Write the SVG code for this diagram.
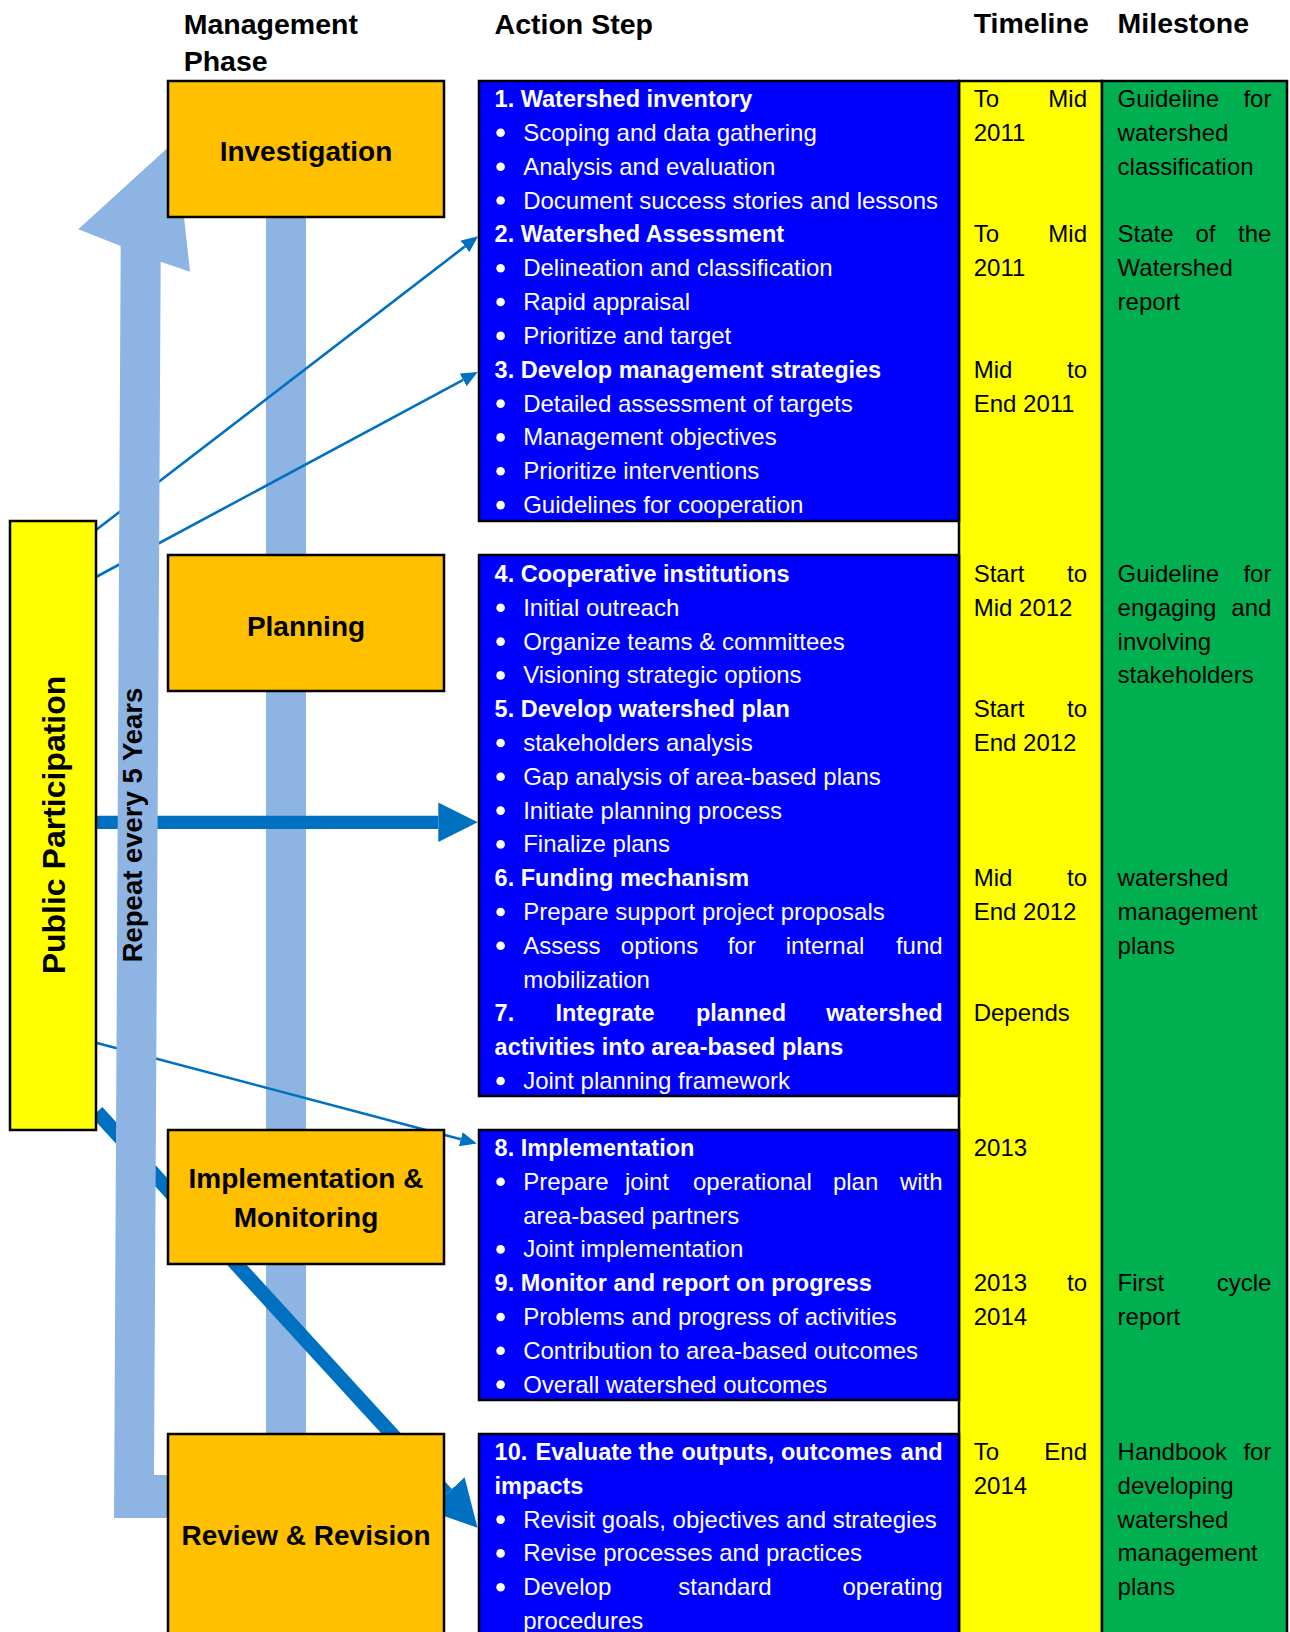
<svg xmlns="http://www.w3.org/2000/svg" width="1290" height="1632" viewBox="0 0 1290 1632">
  <defs>
    <style>
      .f { font-family: "Liberation Sans", Arial, sans-serif; }
      .hdr { font-family: "Liberation Sans", Arial, sans-serif; font-size: 28.5px; font-weight: bold; fill: #000; }
      .phase { font-family: "Liberation Sans", Arial, sans-serif; font-size: 28px; font-weight: bold; fill: #000; text-anchor: middle; }
      .w { font-family: "Liberation Sans", Arial, sans-serif; font-size: 24px; fill: #fff; }
      .wb { font-family: "Liberation Sans", Arial, sans-serif; font-size: 23.5px; font-weight: bold; fill: #fff; }
      .k { font-family: "Liberation Sans", Arial, sans-serif; font-size: 24px; fill: #000; }
      .box { stroke: #000; stroke-width: 2.5; }
      .orange { fill: #FFC000; }
      .blue { fill: #0000FF; }
      .thin { stroke: #0070C0; stroke-width: 2.6; fill: none; }
      .bar { fill: #8EB4E3; }
    </style>
    <marker id="headThin" markerUnits="userSpaceOnUse" markerWidth="17" markerHeight="15" refX="0" refY="7.2" orient="auto">
      <path d="M0,0 L16.5,7.2 L0,14.4 z" fill="#0070C0"/>
    </marker>
    <marker id="headWide" markerUnits="userSpaceOnUse" markerWidth="40" markerHeight="40" refX="0" refY="19.8" orient="auto">
      <path d="M0,0 L39.4,19.8 L0,39.6 z" fill="#0070C0"/>
    </marker>
    <marker id="headDiag" markerUnits="userSpaceOnUse" markerWidth="47" markerHeight="50" refX="0" refY="24.5" orient="auto">
      <path d="M0,0 L46,24.5 L0,49 z" fill="#0070C0"/>
    </marker>
  </defs>

  <rect width="1290" height="1632" fill="#fff"/>

  <!-- column headers -->
  <g id="headers">
    <text class="hdr" x="183.7" y="34">Management</text>
    <text class="hdr" x="183.7" y="71.4">Phase</text>
    <text class="hdr" x="494.6" y="34">Action Step</text>
    <text class="hdr" x="973.7" y="33">Timeline</text>
    <text class="hdr" x="1117.6" y="33">Milestone</text>
  </g>

  <!-- vertical band linking the phases -->
  <rect id="phase-band" class="bar" x="266" y="217" width="40" height="1217"/>

  <!-- connectors from public participation to the action steps -->
  <g id="connectors">
    <line class="thin" x1="96" y1="530" x2="465" y2="246.4" marker-end="url(#headThin)"/>
    <line class="thin" x1="96" y1="577" x2="463.2" y2="379.9" marker-end="url(#headThin)"/>
    <line class="thin" x1="96" y1="1042.7" x2="460.8" y2="1139.2" marker-end="url(#headThin)"/>
    <line x1="96" y1="822.3" x2="438.3" y2="822.3" stroke="#0070C0" stroke-width="13.3" marker-end="url(#headWide)"/>
    <line x1="97" y1="1112" x2="446.5" y2="1493.9" stroke="#0070C0" stroke-width="14.5" marker-end="url(#headDiag)"/>
  </g>

  <!-- repeat cycle arrow -->
  <g id="repeat-arrow">
    <polygon class="bar" points="175.7,140.6 190,271.7 160.7,261.7 154,1475 185,1475 185,1518 114,1518 120.7,246 78.3,229.3"/>
    <text class="f" transform="translate(141.5,825) rotate(-90)" text-anchor="middle" font-size="27.5" font-weight="bold" fill="#000">Repeat every 5 Years</text>
  </g>

  <!-- public participation -->
  <g id="public-participation">
    <rect class="box" x="10" y="521" width="86" height="609" fill="#FFFF00"/>
    <text class="f" transform="translate(64.5,825) rotate(-90)" text-anchor="middle" font-size="32" font-weight="bold" fill="#000">Public Participation</text>
  </g>

  <!-- management phases -->
  <g id="phase-investigation">
    <rect class="box orange" x="168" y="81" width="276" height="136"/>
    <text class="phase" x="306" y="160.5">Investigation</text>
  </g>
  <g id="phase-planning">
    <rect class="box orange" x="168" y="555" width="276" height="136"/>
    <text class="phase" x="306" y="636">Planning</text>
  </g>
  <g id="phase-implementation">
    <rect class="box orange" x="168" y="1130" width="276" height="134"/>
    <text class="phase" x="306" y="1188">Implementation &amp;</text>
    <text class="phase" x="306" y="1227">Monitoring</text>
  </g>
  <g id="phase-review">
    <rect class="box orange" x="168" y="1434" width="276" height="210"/>
    <text class="phase" x="306" y="1545">Review &amp; Revision</text>
  </g>

  <!-- timeline and milestone columns -->
  <g id="col-timeline">
    <rect class="box" x="959" y="81" width="143" height="1565" fill="#FFFF00"/>
    <text class="k" x="973.7" y="107">To</text><text class="k" x="1087" y="107" text-anchor="end">Mid</text>
    <text class="k" x="973.7" y="140.8">2011</text>
    <text class="k" x="973.7" y="242.4">To</text><text class="k" x="1087" y="242.4" text-anchor="end">Mid</text>
    <text class="k" x="973.7" y="276.2">2011</text>
    <text class="k" x="973.7" y="377.7">Mid</text><text class="k" x="1087" y="377.7" text-anchor="end">to</text>
    <text class="k" x="973.7" y="411.6">End 2011</text>
    <text class="k" x="973.7" y="582">Start</text><text class="k" x="1087" y="582" text-anchor="end">to</text>
    <text class="k" x="973.7" y="615.8">Mid 2012</text>
    <text class="k" x="973.7" y="717.2">Start</text><text class="k" x="1087" y="717.2" text-anchor="end">to</text>
    <text class="k" x="973.7" y="751">End 2012</text>
    <text class="k" x="973.7" y="886.2">Mid</text><text class="k" x="1087" y="886.2" text-anchor="end">to</text>
    <text class="k" x="973.7" y="920">End 2012</text>
    <text class="k" x="973.7" y="1021.4">Depends</text>
    <text class="k" x="973.7" y="1156">2013</text>
    <text class="k" x="973.7" y="1291.2">2013</text><text class="k" x="1087" y="1291.2" text-anchor="end">to</text>
    <text class="k" x="973.7" y="1325">2014</text>
    <text class="k" x="973.7" y="1460">To</text><text class="k" x="1087" y="1460" text-anchor="end">End</text>
    <text class="k" x="973.7" y="1493.8">2014</text>
  </g>
  <g id="col-milestone">
    <rect class="box" x="1102" y="81" width="185" height="1565" fill="#00B050"/>
    <text class="k" x="1117.6" y="107">Guideline</text><text class="k" x="1271.4" y="107" text-anchor="end">for</text>
    <text class="k" x="1117.6" y="140.8">watershed</text>
    <text class="k" x="1117.6" y="174.7">classification</text>
    <text class="k" x="1117.6" y="242.4">State</text><text class="k" x="1205.5" y="242.4" text-anchor="middle">of</text><text class="k" x="1271.4" y="242.4" text-anchor="end">the</text>
    <text class="k" x="1117.6" y="276.2">Watershed</text>
    <text class="k" x="1117.6" y="310">report</text>
    <text class="k" x="1117.6" y="582">Guideline</text><text class="k" x="1271.4" y="582" text-anchor="end">for</text>
    <text class="k" x="1117.6" y="615.8">engaging</text><text class="k" x="1271.4" y="615.8" text-anchor="end">and</text>
    <text class="k" x="1117.6" y="649.6">involving</text>
    <text class="k" x="1117.6" y="683.4">stakeholders</text>
    <text class="k" x="1117.6" y="886.2">watershed</text>
    <text class="k" x="1117.6" y="920">management</text>
    <text class="k" x="1117.6" y="953.8">plans</text>
    <text class="k" x="1117.6" y="1291.2">First</text><text class="k" x="1271.4" y="1291.2" text-anchor="end">cycle</text>
    <text class="k" x="1117.6" y="1325">report</text>
    <text class="k" x="1117.6" y="1460">Handbook</text><text class="k" x="1271.4" y="1460" text-anchor="end">for</text>
    <text class="k" x="1117.6" y="1493.8">developing</text>
    <text class="k" x="1117.6" y="1527.6">watershed</text>
    <text class="k" x="1117.6" y="1561.4">management</text>
    <text class="k" x="1117.6" y="1595.2">plans</text>
  </g>

  <!-- action steps, investigation phase -->
  <g id="steps-investigation">
    <rect class="box blue" x="479" y="81" width="480" height="440"/>
    <g fill="#fff">
      <circle cx="500.6" cy="132.8" r="4.3"/><circle cx="500.6" cy="166.7" r="4.3"/><circle cx="500.6" cy="200.5" r="4.3"/>
      <circle cx="500.6" cy="268.2" r="4.3"/><circle cx="500.6" cy="302" r="4.3"/><circle cx="500.6" cy="335.9" r="4.3"/>
      <circle cx="500.6" cy="403.6" r="4.3"/><circle cx="500.6" cy="437.4" r="4.3"/><circle cx="500.6" cy="471.2" r="4.3"/><circle cx="500.6" cy="505.1" r="4.3"/>
    </g>
    <text class="wb" x="494.6" y="107">1. Watershed inventory</text>
    <text class="w" x="523.2" y="140.8">Scoping and data gathering</text>
    <text class="w" x="523.2" y="174.7">Analysis and evaluation</text>
    <text class="w" x="523.2" y="208.5">Document success stories and lessons</text>
    <text class="wb" x="494.6" y="242.4">2. Watershed Assessment</text>
    <text class="w" x="523.2" y="276.2">Delineation and classification</text>
    <text class="w" x="523.2" y="310">Rapid appraisal</text>
    <text class="w" x="523.2" y="343.9">Prioritize and target</text>
    <text class="wb" x="494.6" y="377.7">3. Develop management strategies</text>
    <text class="w" x="523.2" y="411.6">Detailed assessment of targets</text>
    <text class="w" x="523.2" y="445.4">Management objectives</text>
    <text class="w" x="523.2" y="479.2">Prioritize interventions</text>
    <text class="w" x="523.2" y="513.1">Guidelines for cooperation</text>
  </g>

  <!-- action steps, planning phase -->
  <g id="steps-planning">
    <rect class="box blue" x="479" y="555" width="480" height="541"/>
    <g fill="#fff">
      <circle cx="500.6" cy="607.8" r="4.3"/><circle cx="500.6" cy="641.6" r="4.3"/><circle cx="500.6" cy="675.4" r="4.3"/>
      <circle cx="500.6" cy="743" r="4.3"/><circle cx="500.6" cy="776.8" r="4.3"/><circle cx="500.6" cy="810.6" r="4.3"/><circle cx="500.6" cy="844.4" r="4.3"/>
      <circle cx="500.6" cy="912" r="4.3"/><circle cx="500.6" cy="945.8" r="4.3"/><circle cx="500.6" cy="1081" r="4.3"/>
    </g>
    <text class="wb" x="494.6" y="582">4. Cooperative institutions</text>
    <text class="w" x="523.2" y="615.8">Initial outreach</text>
    <text class="w" x="523.2" y="649.6">Organize teams &amp; committees</text>
    <text class="w" x="523.2" y="683.4">Visioning strategic options</text>
    <text class="wb" x="494.6" y="717.2">5. Develop watershed plan</text>
    <text class="w" x="523.2" y="751">stakeholders analysis</text>
    <text class="w" x="523.2" y="784.8">Gap analysis of area-based plans</text>
    <text class="w" x="523.2" y="818.6">Initiate planning process</text>
    <text class="w" x="523.2" y="852.4">Finalize plans</text>
    <text class="wb" x="494.6" y="886.2">6. Funding mechanism</text>
    <text class="w" x="523.2" y="920">Prepare support project proposals</text>
    <text class="w" y="953.8"><tspan x="523.2">Assess</tspan><tspan x="659.5" text-anchor="middle">options</tspan><tspan x="741.7" text-anchor="middle">for</tspan><tspan x="825" text-anchor="middle">internal</tspan><tspan x="942.6" text-anchor="end">fund</tspan></text>
    <text class="w" x="523.2" y="987.6">mobilization</text>
    <text class="wb" y="1021.4"><tspan x="494.6">7.</tspan><tspan x="605" text-anchor="middle">Integrate</tspan><tspan x="741" text-anchor="middle">planned</tspan><tspan x="942.6" text-anchor="end">watershed</tspan></text>
    <text class="wb" x="494.6" y="1055.2">activities into area-based plans</text>
    <text class="w" x="523.2" y="1089">Joint planning framework</text>
  </g>

  <!-- action steps, implementation phase -->
  <g id="steps-implementation">
    <rect class="box blue" x="479" y="1130" width="480" height="270"/>
    <g fill="#fff">
      <circle cx="500.6" cy="1181.8" r="4.3"/><circle cx="500.6" cy="1249.4" r="4.3"/>
      <circle cx="500.6" cy="1317" r="4.3"/><circle cx="500.6" cy="1350.8" r="4.3"/><circle cx="500.6" cy="1384.6" r="4.3"/>
    </g>
    <text class="wb" x="494.6" y="1156">8. Implementation</text>
    <text class="w" y="1189.8"><tspan x="523.2">Prepare</tspan><tspan x="647" text-anchor="middle">joint</tspan><tspan x="752.4" text-anchor="middle">operational</tspan><tspan x="855.6" text-anchor="middle">plan</tspan><tspan x="942.6" text-anchor="end">with</tspan></text>
    <text class="w" x="523.2" y="1223.6">area-based partners</text>
    <text class="w" x="523.2" y="1257.4">Joint implementation</text>
    <text class="wb" x="494.6" y="1291.2">9. Monitor and report on progress</text>
    <text class="w" x="523.2" y="1325">Problems and progress of activities</text>
    <text class="w" x="523.2" y="1358.8">Contribution to area-based outcomes</text>
    <text class="w" x="523.2" y="1392.6">Overall watershed outcomes</text>
  </g>

  <!-- action steps, review phase -->
  <g id="steps-review">
    <rect class="box blue" x="479" y="1434" width="480" height="212"/>
    <g fill="#fff">
      <circle cx="500.6" cy="1519.6" r="4.3"/><circle cx="500.6" cy="1553.4" r="4.3"/><circle cx="500.6" cy="1587.2" r="4.3"/>
    </g>
    <text class="wb" y="1460"><tspan x="494.6">10.</tspan><tspan x="535.5">Evaluate</tspan><tspan x="638.5">the</tspan><tspan x="681.5">outputs,</tspan><tspan x="781">outcomes</tspan><tspan x="942.6" text-anchor="end">and</tspan></text>
    <text class="wb" x="494.6" y="1493.8">impacts</text>
    <text class="w" x="523.2" y="1527.6">Revisit goals, objectives and strategies</text>
    <text class="w" x="523.2" y="1561.4">Revise processes and practices</text>
    <text class="w" y="1595.2"><tspan x="523.2">Develop</tspan><tspan x="725" text-anchor="middle">standard</tspan><tspan x="942.6" text-anchor="end">operating</tspan></text>
    <text class="w" x="523.2" y="1629">procedures</text>
  </g>
</svg>
